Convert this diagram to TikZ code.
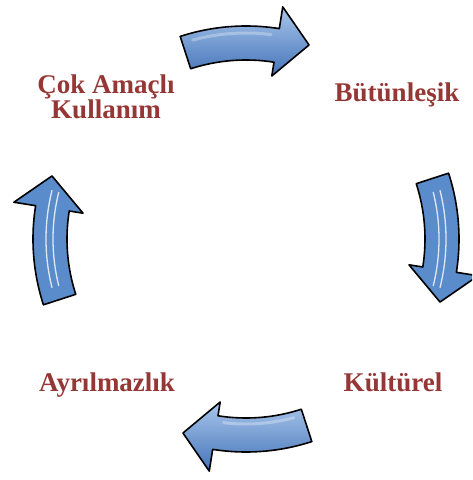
\documentclass[tikz,border=0pt]{standalone}
\usepackage{fontspec}
\setmainfont{Liberation Serif}
\usetikzlibrary{positioning}
\definecolor{labelred}{HTML}{953735}
\definecolor{arrowlight}{HTML}{A9C6EC}
\definecolor{arrowmid}{HTML}{5A8BCB}
\definecolor{arrowdark}{HTML}{4474B8}

\begin{document}
\begin{tikzpicture}[x=1pt,y=1pt,
  lbl/.style={font=\fontsize{27}{25}\selectfont\bfseries,text=labelred,align=center},
  curvarrow/.style={draw=black,line width=1.6pt,line join=round},
  gloss/.style={white,line width=1.3pt,opacity=0.8,line cap=round}]
\useasboundingbox (0,0) rectangle (472,480);
\clip (0,0) rectangle (472,480);

\begin{scope}[shift={(246,241)}]
% top arrow
\draw[curvarrow,top color=arrowlight,middle color=arrowmid,bottom color=arrowdark] (108:213) arc (108:81:213) -- (81:235) -- (72:204) -- (81:165) -- (81:179) arc (81:108:179) -- cycle;
\draw[white,line width=3pt,opacity=0.3,line cap=round] (105:206) arc (105:83:206);
% right arrow
\draw[curvarrow,left color=arrowmid,middle color=arrowlight,right color=arrowmid] (18:213) arc (18:-9:213) -- (-9:235) -- (-18:204) -- (-9:165) -- (-9:179) arc (-9:18:179) -- cycle;
\draw[gloss] (14:193) arc (14:-14:193);
\draw[gloss] (14:200) arc (14:-14:200);
% bottom arrow
\draw[curvarrow,top color=arrowlight,middle color=arrowmid,bottom color=arrowdark] (-72:213) arc (-72:-99:213) -- (-99:235) -- (-108:204) -- (-99:165) -- (-99:179) arc (-99:-72:179) -- cycle;
\draw[white,line width=3pt,opacity=0.3,line cap=round] (-97:185) arc (-97:-75:185);
% left arrow
\draw[curvarrow,left color=arrowmid,middle color=arrowlight,right color=arrowmid] (198:213) arc (198:171:213) -- (171:235) -- (162:204) -- (171:165) -- (171:179) arc (171:198:179) -- cycle;
\draw[gloss] (194:193) arc (194:166:193);
\draw[gloss] (194:200) arc (194:166:200);
\end{scope}

\node[lbl] (cok) at (106,383) {Çok Amaçlı\\Kullanım};
\node[lbl,anchor=base] (butun) at (397,378) {Bütünleşik};
\node[lbl,anchor=base] (kultur) at (393,88) {Kültürel};
\node[lbl,anchor=base] (ayril) at (107,88) {Ayrılmazlık};

\end{tikzpicture}
\end{document}
